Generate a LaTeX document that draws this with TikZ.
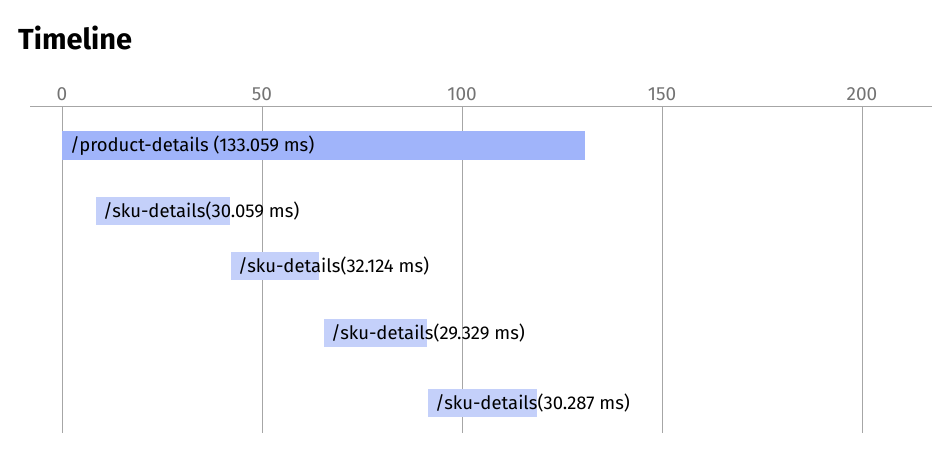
\documentclass[tikz,border=0pt]{standalone}
\usepackage{fontspec}
\setmainfont{Fira Sans}
\begin{document}
\begin{tikzpicture}[x=1pt,y=-1pt,
  grid/.style={draw=gray!70,line width=0.8pt},
  tick/.style={text=gray!90!black,font=\fontsize{19}{22}\selectfont\addfontfeatures{Weight=Light}},
  lbl/.style={anchor=west,inner sep=0pt,font=\fontsize{18.5}{22}\selectfont}]
\definecolor{barA}{HTML}{A0B4FA}
\definecolor{barB}{HTML}{C4D0FA}
\useasboundingbox (0,0) rectangle (950,450);
\node[anchor=west,inner sep=0pt,font=\fontsize{29}{34}\selectfont\bfseries] (title) at (18,38) {Timeline};
\draw[grid] (30,106) coordinate (axl) -- (932,106) coordinate (axr);
\foreach \v/\x in {0/62,50/262,100/462,150/662,200/862}{
  \node[tick] (t\v) at (\x,94) {\v};
  \draw[grid] (\x,106) coordinate (g\v) -- (\x,433);
}
\fill[barA] (62,131) rectangle (585,160);
\node[lbl] (b1) at (70,146) {/product-details (133.059 ms)};
\fill[barB] (96,197) rectangle (230,225);
\node[lbl] (b2) at (103,211) {/sku-details(30.059 ms)};
\fill[barB] (231,252) rectangle (319,280);
\node[lbl] (b3) at (238,266) {/sku-details(32.124 ms)};
\fill[barB] (324,319) rectangle (427,347);
\node[lbl] (b4) at (331,333) {/sku-details(29.329 ms)};
\fill[barB] (428,389) rectangle (537,417);
\node[lbl] (b5) at (435,403) {/sku-details(30.287 ms)};
\end{tikzpicture}
\end{document}
